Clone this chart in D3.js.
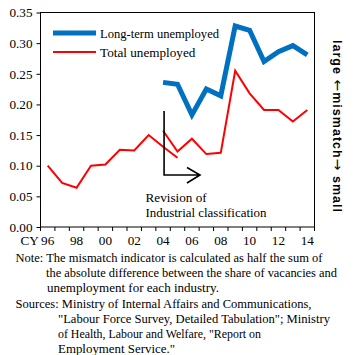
<!DOCTYPE html>
<html><head><meta charset="utf-8">
<script src="https://cdn.jsdelivr.net/npm/d3@7"></script>
<style>body{margin:0;background:#fff}svg{display:block}
svg text{font-family:"Liberation Serif","Times New Roman",Times,serif;}
svg text.bold{font-family:"Liberation Sans",Arial,sans-serif;font-weight:bold;}
svg tspan.arr{font-family:"DejaVu Sans",sans-serif;font-weight:normal;}
</style>
</head><body>
<svg id="c" width="355" height="355"></svg>
<script>
const years = d3.range(1996, 2015);
const tickLabels = ["96","98","00","02","04","06","08","10","12","14"];
const totalOld = [0.100,0.072,0.064,0.100,0.102,0.126,0.125,0.150,0.131,0.113,null,null,null,null,null,null,null,null,null];
const totalNew = [null,null,null,null,null,null,null,null,0.157,0.123,0.144,0.119,0.121,0.255,0.218,0.191,0.191,0.172,0.191];
const longTerm = [null,null,null,null,null,null,null,null,0.236,0.233,0.183,0.225,0.214,0.328,0.321,0.270,0.286,0.296,0.281];
const yTicks = [0,0.05,0.10,0.15,0.20,0.25,0.30,0.35];
const noteLines = ["Note: The mismatch indicator is calculated as half the sum of","the absolute difference between the share of vacancies and","unemployment for each industry."];
const srcLines = ["Sources: Ministry of Internal Affairs and Communications,","\"Labour Force Survey, Detailed Tabulation\"; Ministry","of Health, Labour and Welfare, \"Report on","Employment Service.\""];
const sideParts = [["large  ",false],["\u2190",true],["mismatch",false],["\u2192",true],["  small",false]];

const svg = d3.select("#c");
const L=40.5, R=314.5, T=12.5, B=227;
const x = d3.scaleBand().domain(years).range([L,R]).padding(0);
const y = d3.scaleLinear().domain([0,0.35]).range([B,T]);
const cx = yr => x(yr) + x.bandwidth()/2;
const FS = 13.2;

// frame
svg.append("rect").attr("x",L).attr("y",T).attr("width",R-L).attr("height",B-T)
  .attr("fill","none").attr("stroke","#000").attr("stroke-width",1);

// y axis
const ya = svg.append("g").attr("transform",`translate(${L},0)`)
  .call(d3.axisLeft(y).tickValues(yTicks).tickFormat(d3.format(".2f")).tickSize(4).tickSizeOuter(0));
ya.select(".domain").remove();
ya.attr("font-family",null);
ya.selectAll("text").attr("font-size",FS).attr("fill","#000").attr("x",-8);

// x axis labels
const xa = svg.append("g").attr("transform",`translate(0,${B})`)
  .call(d3.axisBottom(x).tickValues(years.filter((d,i)=>i%2===0)).tickFormat((d,i)=>tickLabels[i]).tickSize(0));
xa.select(".domain").remove();
xa.attr("font-family",null);
xa.selectAll("text").attr("font-size",FS).attr("fill","#000").attr("dy","0").attr("y",18);
// boundary ticks
const bounds = years.map(d=>x(d)).concat([R]);
svg.append("g").selectAll("line").data(bounds).join("line")
  .attr("x1",d=>d).attr("x2",d=>d).attr("y1",B).attr("y2",B+4).attr("stroke","#000");
svg.append("text").attr("x",20.5).attr("y",245).attr("font-size",FS).text("CY");

// lines
const line = d3.line().defined(d=>d.v!=null).x(d=>cx(d.yr)).y(d=>y(d.v));
const mk = arr => years.map((yr,i)=>({yr, v:arr[i]}));
svg.append("path").datum(mk(totalOld)).attr("d",line).attr("fill","none").attr("stroke","#FF0000").attr("stroke-width",2);
svg.append("path").datum(mk(totalNew)).attr("d",line).attr("fill","none").attr("stroke","#FF0000").attr("stroke-width",2);
svg.append("path").datum(mk(longTerm)).attr("d",line).attr("fill","none").attr("stroke","#0070C0").attr("stroke-width",5);

// legend
svg.append("line").attr("x1",53).attr("x2",96).attr("y1",33).attr("y2",33).attr("stroke","#0070C0").attr("stroke-width",5);
svg.append("line").attr("x1",53).attr("x2",96).attr("y1",52).attr("y2",52).attr("stroke","#FF0000").attr("stroke-width",2);
svg.append("text").attr("x",100).attr("y",37.5).attr("font-size",FS).attr("textLength",119).attr("lengthAdjust","spacingAndGlyphs").text("Long-term unemployed");
svg.append("text").attr("x",100).attr("y",56.5).attr("font-size",FS).text("Total unemployed");

// revision annotation
const ax = cx(2004)+1;
svg.append("path").attr("d",`M${ax},111 V175 H200 M187,167.5 L200,175 L187,183`)
  .attr("fill","none").attr("stroke","#000").attr("stroke-width",1.6);
svg.append("text").attr("x",145.5).attr("y",202).attr("font-size",FS).text("Revision of");
svg.append("text").attr("x",145.5).attr("y",216.5).attr("font-size",FS).attr("textLength",121).attr("lengthAdjust","spacingAndGlyphs").text("Industrial classification");

// right side label
const side = svg.append("text").attr("class","bold").attr("transform","translate(333,40) rotate(90)")
  .attr("font-size",12.5).attr("textLength",172).attr("lengthAdjust","spacing");
side.selectAll("tspan").data(sideParts).join("tspan")
  .attr("class",d=>d[1]?"arr":null).attr("font-size",d=>d[1]?14:null).text(d=>d[0]);

// notes
const nWidths=[307,291,172];
const nX=[15.5,46,47];
noteLines.forEach((t,i)=>svg.append("text").attr("x",nX[i]).attr("y",261.5+15.2*i)
  .attr("font-size",12.8).attr("textLength",nWidths[i]).attr("lengthAdjust","spacingAndGlyphs").text(t));
const sWidths=[296,272,203,117];
const sX=[15.5,58,58,58];
srcLines.forEach((t,i)=>svg.append("text").attr("x",sX[i]).attr("y",307.5+15*i)
  .attr("font-size",12.8).attr("textLength",sWidths[i]).attr("lengthAdjust","spacingAndGlyphs").text(t));
</script>
</body></html>
